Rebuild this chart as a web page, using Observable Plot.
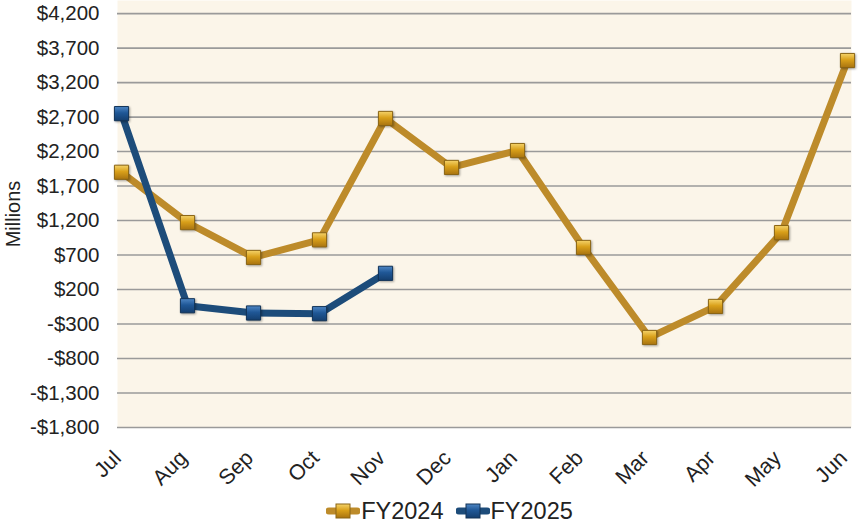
<!DOCTYPE html>
<html>
<head>
<meta charset="utf-8">
<script src="https://cdn.jsdelivr.net/npm/d3@7"></script>
<script src="https://cdn.jsdelivr.net/npm/@observablehq/plot@0.6"></script>
<style>
  html, body { margin: 0; padding: 0; background: #ffffff; }
  body { width: 867px; height: 523px; overflow: hidden; position: relative; font-family: "Liberation Sans", Arial, sans-serif; }
  #legend { position: absolute; left: 32px; right: 0; top: 499px; display: flex; justify-content: center; align-items: center; height: 24px; line-height: 24px; gap: 12px; font-size: 23.5px; color: #222; }
  #legend .item { display: flex; align-items: center; height: 24px; }
</style>
</head>
<body>
<div id="chart"></div>
<div id="legend"></div>
<script>
const months = ["Jul","Aug","Sep","Oct","Nov","Dec","Jan","Feb","Mar","Apr","May","Jun"];
const seriesNames = ["FY2024","FY2025"];
const fy2024 = [1900, 1170, 665, 920, 2680, 1970, 2215, 810, -495, -45, 1025, 3520];
const fy2025 = [2750, -35, -140, -150, 435];
const yTicks = [4200, 3700, 3200, 2700, 2200, 1700, 1200, 700, 200, -300, -800, -1300, -1800];
const lineColors = ["#BD8B2A", "#1D4C7A"];
const gradIds = ["url(#gGold)", "url(#gBlue)"];
const markerStroke = ["#8a6414", "#123357"];

const data = [];
fy2024.forEach((v, i) => data.push({month: months[i], value: v, series: seriesNames[0]}));
fy2025.forEach((v, i) => data.push({month: months[i], value: v, series: seriesNames[1]}));

const fmt = d => (d < 0 ? "-" : "") + "$" + d3.format(",")(Math.abs(d));

const chart = Plot.plot({
  width: 867,
  height: 495,
  marginTop: 0,
  marginLeft: 117,
  marginRight: 16,
  marginBottom: 68,
  style: {fontFamily: "'Liberation Sans', Arial, sans-serif", fontSize: "20.5px", color: "#222", background: "transparent"},
  x: {type: "point", domain: months, padding: 0},
  y: {domain: [-1800, 4390], ticks: yTicks},
  marks: [
    Plot.frame({fill: "#FBF5E9", stroke: null}),
    Plot.ruleY(yTicks, {stroke: "#9a9a9a", strokeWidth: 1.6}),
    Plot.axisY({ticks: yTicks, tickFormat: fmt, tickSize: 0, tickPadding: 18, label: null}),
    Plot.axisY({ticks: [], label: "Millions", labelAnchor: "center", labelArrow: "none", labelOffset: 112}),
    Plot.axisX({tickRotate: -45, tickSize: 0, tickPadding: 27, dx: -4, label: null}),
    Plot.line(data.filter(d => d.series === seriesNames[0]), {x: "month", y: "value", stroke: lineColors[0], strokeWidth: 7, strokeLinejoin: "round"}),
    Plot.line(data.filter(d => d.series === seriesNames[1]), {x: "month", y: "value", stroke: lineColors[1], strokeWidth: 7, strokeLinejoin: "round"}),
    Plot.dot(data.filter(d => d.series === seriesNames[0]), {x: "month", y: "value", symbol: "square", r: 8, fill: gradIds[0], stroke: markerStroke[0], strokeWidth: 1}),
    Plot.dot(data.filter(d => d.series === seriesNames[1]), {x: "month", y: "value", symbol: "square", r: 8, fill: gradIds[1], stroke: markerStroke[1], strokeWidth: 1})
  ]
});

const defs = `
<defs>
  <linearGradient id="gGold" x1="0" y1="0" x2="0" y2="1">
    <stop offset="0" stop-color="#F5D36A"/>
    <stop offset="0.45" stop-color="#D9A01A"/>
    <stop offset="1" stop-color="#A87310"/>
  </linearGradient>
  <linearGradient id="gBlue" x1="0" y1="0" x2="0" y2="1">
    <stop offset="0" stop-color="#4E86C4"/>
    <stop offset="0.45" stop-color="#1F5796"/>
    <stop offset="1" stop-color="#143E6E"/>
  </linearGradient>
</defs>`;
chart.insertAdjacentHTML("afterbegin", defs);
chart.querySelectorAll("g[aria-label='dot'] path").forEach(p => p.setAttribute("filter", "drop-shadow(1px 1.5px 1px rgba(0,0,0,0.35))"));
chart.querySelectorAll("text").forEach(t => {
  if (t.textContent.trim() === "Millions") t.setAttribute("style", "font-size:20px");
  else if (months.includes(t.textContent.trim())) t.setAttribute("style", "font-size:21.5px");
});
document.getElementById("chart").appendChild(chart);

const legend = document.getElementById("legend");
seriesNames.forEach((name, i) => {
  const item = document.createElement("div");
  item.className = "item";
  item.innerHTML = `<svg width="34" height="20" style="margin-right:1px"><line x1="3" x2="31" y1="10" y2="10" stroke="${lineColors[i]}" stroke-width="7" stroke-linecap="round"/><rect x="10" y="3" width="14" height="14" fill="${gradIds[i]}" stroke="${markerStroke[i]}" stroke-width="1"/></svg><span>${name}</span>`;
  legend.appendChild(item);
});
legend.insertAdjacentHTML("afterbegin", `<svg width="0" height="0" style="position:absolute">${defs}</svg>`);
</script>
</body>
</html>
